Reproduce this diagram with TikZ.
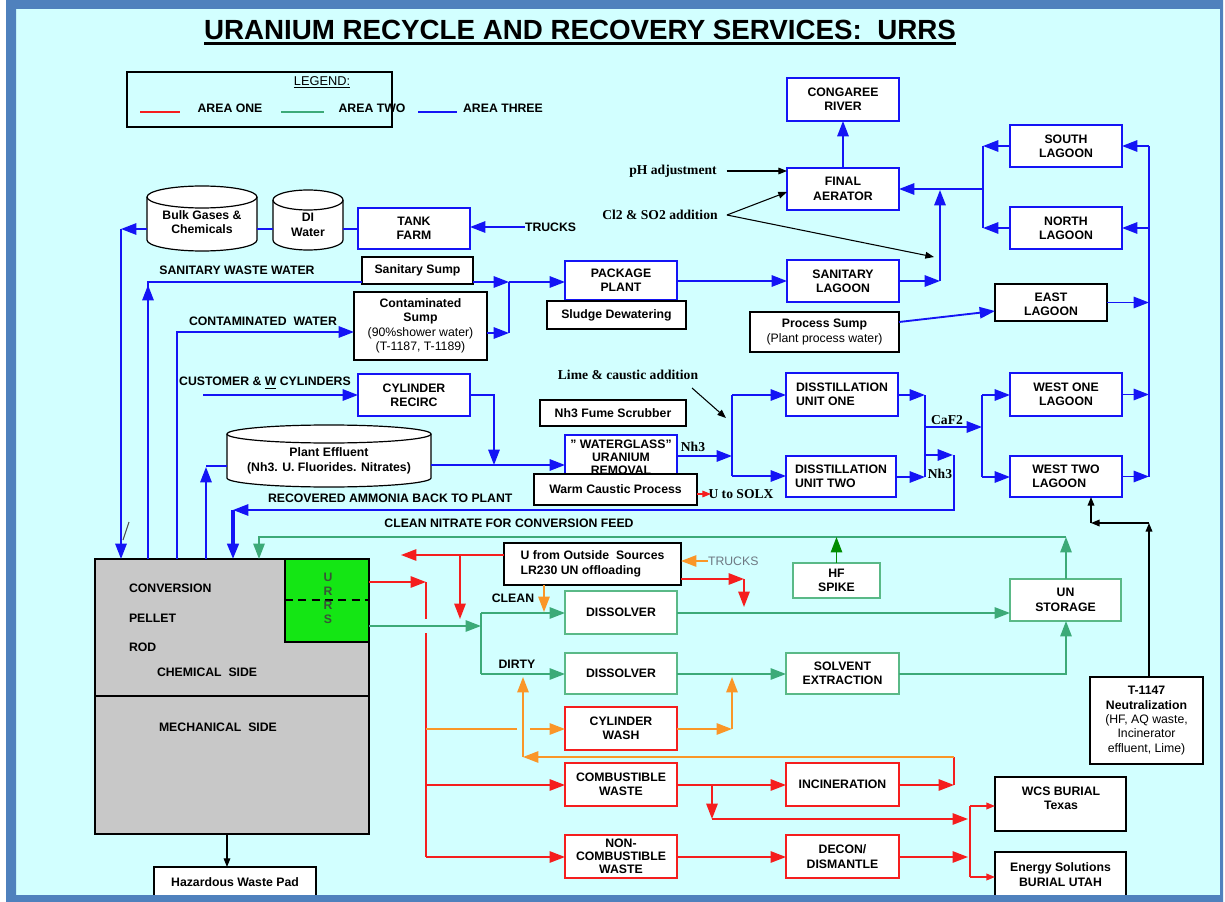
\documentclass[tikz,border=0pt]{standalone}
\usepackage{fontspec}
\setmainfont{Liberation Sans}
\newfontfamily\serifb{Liberation Serif}
\usetikzlibrary{arrows.meta}
\definecolor{bg}{RGB}{210,255,255}
\definecolor{cframe}{RGB}{79,129,189}
\definecolor{cblue}{RGB}{20,20,245}
\definecolor{cgreen}{RGB}{60,170,120}
\definecolor{cgreenbox}{RGB}{90,185,135}
\definecolor{cdkgreen}{RGB}{0,140,0}
\definecolor{cred}{RGB}{245,30,30}
\definecolor{corange}{RGB}{250,150,40}
\definecolor{cgray}{RGB}{200,200,200}
\definecolor{currs}{RGB}{20,230,20}
\definecolor{curtxt}{RGB}{55,85,55}
\definecolor{ctrucks}{RGB}{110,120,130}
\newcommand\myfb{\fontsize{9.2}{10.8}\selectfont\bfseries}
\newcommand\myfbt{\fontsize{9.2}{9.6}\selectfont\bfseries}
\newcommand\myfr{\fontsize{9.2}{10.8}\selectfont\mdseries}
\newcommand\myfs{\serifb\fontsize{10.2}{12}\selectfont\bfseries}
\newcommand\mybox[7]{\node[#1, minimum width={(#5-#3)*0.75pt}, minimum height={(#6-#4)*0.75pt}] (#2) at ({(#3+#5)/2},{(#4+#6)/2}) {#7};}
\newcommand\mycyl[6]{%
  \path[draw=black, line width=0.9pt, fill=white] (#2,{#4+#6}) -- (#2,{#5-#6})
     arc[start angle=180, end angle=360, x radius={(#3-#2)/2*0.75pt}, y radius={#6*0.75pt}]
     -- (#3,{#4+#6})
     arc[start angle=0, end angle=180, x radius={(#3-#2)/2*0.75pt}, y radius={#6*0.75pt}] -- cycle;
  \draw[line width=0.9pt] (#2,{#4+#6}) arc[start angle=180, end angle=360, x radius={(#3-#2)/2*0.75pt}, y radius={#6*0.75pt}];
  \node[minimum width={(#3-#2)*0.75pt}, minimum height={(#5-#4)*0.75pt}, inner sep=0pt, outer sep=0pt] (#1) at ({(#2+#3)/2},{(#4+#5)/2}) {};}
\tikzset{
 box/.style={draw, fill=white, inner sep=0pt, outer sep=0pt, align=center, font=\myfb},
 bbox/.style={box, draw=cblue, line width=1.3pt},
 kbox/.style={box, draw=black, line width=1pt},
 gbox/.style={box, draw=cgreenbox, line width=1.2pt},
 rbox/.style={box, draw=cred, line width=1.2pt},
 lbl/.style={inner sep=0pt, outer sep=0pt, font=\myfb, align=center},
 slbl/.style={inner sep=0pt, outer sep=0pt, font=\myfs},
 bl/.style={draw=cblue, line width=1.4pt},
 gl/.style={draw=cgreen, line width=1.2pt},
 rl/.style={draw=cred, line width=1.2pt},
 ol/.style={draw=corange, line width=1.2pt},
 kl/.style={draw=black, line width=0.8pt},
 arrw/.style={-{Triangle[length=11.5pt,width=8.5pt]}},
 sarrw/.style={-{Triangle[length=6.5pt,width=5pt]}},
}
\begin{document}
\begin{tikzpicture}[x=0.75pt,y=-0.75pt]
\useasboundingbox (0,0) rectangle (1225,902);
\fill[white] (0,0) rectangle (1225,902);
\fill[bg] (16,9) rectangle (1220,895);

% title
\node[inner sep=0pt, outer sep=0pt, anchor=base, font=\fontsize{20.8}{24}\selectfont\bfseries] (ttl) at (580,40) {URANIUM RECYCLE AND RECOVERY SERVICES:\ \ URRS};
\draw[line width=1.6pt] ([yshift=-2.6pt]ttl.base west) -- ([yshift=-2.6pt]ttl.base east);

% legend
\node[draw, line width=0.9pt, inner sep=0pt, minimum width={265*0.75pt}, minimum height={55*0.75pt}] (legend) at (259.5,99.5) {};
\node[inner sep=0pt, font=\fontsize{9.6}{11}\selectfont] (legt) at (322,82) {\underline{LEGEND:}};
\draw[draw=cred, line width=2.2pt] (140,112) -- (180,112);
\draw[draw=cgreen, line width=2.2pt] (281,112) -- (324,112);
\draw[draw=cblue, line width=2.2pt] (418,112) -- (457,112);
\node[lbl] (la1) at (230,108) {AREA ONE};
\node[lbl] (la2) at (372,108) {AREA TWO};
\node[lbl] (la3) at (503,108) {AREA THREE};

% cylinders
\mycyl{bulk}{147}{257}{186}{251}{11}
\mycyl{di}{273}{343}{190}{250}{10}
\mycyl{pe}{227}{431}{425}{487}{9}
\node[lbl] (tbulk) at (202,222) {Bulk Gases \&\\Chemicals};
\node[lbl] (tdi) at (308,225) {DI\\Water};
\node[lbl] (tpe) at (329,461) {Plant Effluent\\(Nh3. U. Fluorides. Nitrates)};

% area three boxes
\mybox{bbox}{tank}{358}{208}{470}{249}{TANK\\FARM}
\mybox{kbox}{sansump}{362}{257}{473}{284}{Sanitary Sump}
\mybox{kbox}{contsump}{354}{292}{487}{360}{Contaminated\\Sump\\{\myfr(90\%shower water)}\\{\myfr(T-1187, T-1189)}}
\mybox{bbox}{pkg}{565}{261}{677}{300}{PACKAGE\\PLANT}
\mybox{kbox}{sludge}{547}{301}{686}{329}{Sludge Dewatering}
\mybox{bbox}{sanlag}{787}{260}{899}{302}{SANITARY\\LAGOON}
\mybox{bbox}{aer}{787}{168}{899}{210}{FINAL\\AERATOR}
\mybox{bbox}{cong}{787}{78}{899}{121}{CONGAREE\\RIVER}
\mybox{bbox}{south}{1010}{125}{1122}{167}{SOUTH\\LAGOON}
\mybox{bbox}{north}{1010}{207}{1122}{249}{NORTH\\LAGOON}
\mybox{kbox}{procsump}{750}{312}{899}{352}{Process Sump\\{\myfr(Plant process water)}}
\mybox{kbox}{east}{995}{284}{1107}{321}{}
\begin{scope}
\clip (997,286) rectangle (1105,316);
\node[lbl] (easttxt) at (1051,304) {EAST\\LAGOON};
\end{scope}
\mybox{bbox}{cylrec}{358}{374}{470}{416}{CYLINDER\\RECIRC}
\mybox{kbox}{fume}{540}{400}{686}{426}{Nh3 Fume Scrubber}
\mybox{bbox, font=\myfbt}{wg}{565}{435}{677}{480}{" WATERGLASS"\\URANIUM\\REMOVAL}
\mybox{kbox}{warm}{534}{474}{697}{505}{Warm Caustic Process}
\mybox{bbox, align=left}{dist1}{786}{373}{898}{416}{DISSTILLATION\\UNIT ONE}
\mybox{bbox, align=left}{dist2}{786}{456}{896}{497}{DISSTILLATION\\UNIT TWO}
\mybox{bbox}{west1}{1010}{373}{1122}{416}{WEST ONE\\LAGOON}
\mybox{bbox, align=left}{west2}{1010}{456}{1122}{497}{WEST TWO\\LAGOON}
\mybox{kbox}{t1147}{1090}{677}{1203}{764}{T-1147\\Neutralization\\{\myfr(HF, AQ waste,}\\{\myfr Incinerator}\\{\myfr effluent, Lime)}}

% conversion block
\mybox{box, fill=cgray, draw=black, line width=1pt}{conv}{95}{559}{369}{834}{}
\draw[kl, line width=1pt] (conv.west |- 0,696) -- (conv.east |- 0,696);
\mybox{box, fill=currs, draw=black, line width=1pt}{urrs}{285}{559}{369}{642}{}
\draw[black, line width=1.2pt, dash pattern=on 6pt off 4pt] (urrs.west |- 0,600) -- (urrs.east |- 0,600);
\node[lbl, text=curtxt] (u1) at (328,577) {U};
\node[lbl, text=curtxt] (u2) at (328,591) {R};
\node[lbl, text=curtxt] (u3) at (328,605) {R};
\node[lbl, text=curtxt] (u4) at (328,619) {S};
\node[lbl, anchor=west] (tconv) at (129,588) {CONVERSION};
\node[lbl, anchor=west] (tpel) at (129,618) {PELLET};
\node[lbl, anchor=west] (trod) at (129,647) {ROD};
\node[lbl, anchor=west] (tchem) at (157,672) {CHEMICAL\ \ SIDE};
\node[lbl, anchor=west] (tmech) at (159,727) {MECHANICAL\ \ SIDE};
\mybox{kbox}{haz}{154}{867}{316}{897}{Hazardous Waste Pad}

% area one / two boxes
\mybox{kbox, align=left}{uout}{504}{543}{681}{585}{U from Outside\ \ Sources\\LR230 UN offloading}
\mybox{gbox}{diss1}{565}{591}{677}{634}{DISSOLVER}
\mybox{gbox}{diss2}{565}{653}{677}{694}{DISSOLVER}
\mybox{rbox}{cylwash}{565}{707}{677}{750}{CYLINDER\\WASH}
\mybox{rbox}{comb}{565}{763}{677}{806}{COMBUSTIBLE\\WASTE}
\mybox{rbox, font=\myfbt}{noncomb}{565}{835}{677}{878}{NON-\\COMBUSTIBLE\\WASTE}
\mybox{gbox}{hf}{793}{563}{880}{598}{HF\\SPIKE}
\mybox{gbox}{unstor}{1010}{579}{1121}{621}{UN\\STORAGE}
\mybox{gbox}{solv}{786}{653}{899}{694}{SOLVENT\\EXTRACTION}
\mybox{rbox}{incin}{786}{763}{899}{806}{INCINERATION}
\mybox{rbox}{decon}{786}{835}{899}{878}{DECON/\\DISMANTLE}
\mybox{kbox}{wcs}{995}{777}{1126}{831}{}
\node[lbl] (wcstxt) at (1061,798) {WCS BURIAL\\Texas};
\mybox{kbox}{energy}{995}{852}{1126}{897}{Energy Solutions\\BURIAL UTAH}

% labels
\node[lbl] (lsww) at (237,270) {SANITARY WASTE WATER};
\node[lbl] (lcw) at (263,321) {CONTAMINATED\ \ WATER};
\node[lbl] (lcust) at (265,383) {CUSTOMER \& \underline{W} CYLINDERS};
\node[lbl, anchor=west] (lrec) at (268,498) {RECOVERED AMMONIA BACK TO PLANT};
\node[lbl] (lclean) at (509,523) {CLEAN NITRATE FOR CONVERSION FEED};
\node[lbl] (lcl) at (513,598) {CLEAN};
\node[lbl] (ldi) at (517,664) {DIRTY};
\node[lbl, anchor=west] (trucks) at (525,227) {TRUCKS};
\node[lbl, anchor=west, font=\myfr, text=ctrucks] (trucks2) at (708,561) {TRUCKS};
\node[slbl] (lph) at (673,171) {pH adjustment};
\node[slbl] (lcl2) at (660,215) {Cl2 \& SO2 addition};
\node[slbl] (llime) at (628,375) {Lime \& caustic addition};
\node[slbl] (lnh3a) at (693,447) {Nh3};
\node[slbl] (lcaf) at (947,420) {CaF2};
\node[slbl] (lnh3b) at (940,474) {Nh3};
\node[slbl] (lsolx) at (741,494) {U to SOLX};

% ---------- blue connectors ----------
\draw[bl, arrw] (trucks.west) -- (tank.east |- trucks.west);
\draw[bl] (tank.west |- 0,229) -- (di.east |- 0,229);
\draw[bl] (di.west |- 0,229) -- (bulk.east |- 0,229);
\coordinate (cb) at (121,229);
\draw[bl, arrw] (bulk.west |- cb) -- (cb);
\draw[bl, arrw] (cb) -- (cb |- conv.north);
\coordinate (csw) at (148,282);
\draw[bl] (csw |- conv.north) -- (csw) -- (sansump.west |- csw);
\draw[bl, arrw] (148,305) -- (148,285);
\coordinate (ccw) at (177,332);
\draw[bl, arrw] (ccw |- conv.north) -- (ccw) -- (contsump.west |- ccw);
\coordinate (jp) at (509,282);
\coordinate (jp2) at (509,333);
\draw[bl, arrw] (sansump.east |- jp) -- (jp);
\draw[bl, arrw] (contsump.east |- jp2) -- (jp2);
\draw[bl] (jp) -- (jp2);
\draw[bl, arrw] (jp) -- (pkg.west |- jp);
\draw[bl, arrw] (pkg.east |- 0,281) -- (sanlag.west |- 0,281);
\coordinate (ja) at (940,281);
\coordinate (jb) at (940,190);
\draw[bl, arrw] (sanlag.east |- ja) -- (ja);
\draw[bl, arrw] (ja) -- (jb);
\coordinate (jl) at (983,189);
\draw[bl, arrw] (jl) -- (aer.east |- jl);
\coordinate (js) at (983,146);
\coordinate (jn) at (983,228);
\draw[bl] (js) -- (jn);
\draw[bl, arrw] (south.west |- js) -- (js);
\draw[bl, arrw] (north.west |- jn) -- (jn);
\draw[bl, arrw] (aer.north) -- (cong.south);
\coordinate (rs) at (1149,146);
\coordinate (rb) at (1149,477);
\draw[bl] (rs) -- (rb);
\draw[bl, arrw] (rs) -- (south.east |- rs);
\draw[bl, arrw] (rs |- jn) -- (north.east |- jn);
\draw[bl, arrw] (east.east) -- (rs |- east.east);
\draw[bl, arrw] (west1.east) -- (rs |- west1.east);
\draw[bl, arrw] (west2.east) -- (rs |- west2.east);
\draw[bl, arrw] (procsump.east |- 0,322) -- (east.west |- 0,311);
\draw[bl, arrw] (203,395) -- (cylrec.west |- 0,395);
\coordinate (jc) at (494,395);
\coordinate (je) at (494,465);
\draw[bl, arrw] (cylrec.east |- jc) -- (jc) -- (je);
\draw[bl, arrw] (pe.east |- je) -- (wg.west |- je);
\coordinate (cpe) at (206,466);
\draw[bl] (cpe) -- (pe.west |- cpe);
\draw[bl, arrw] (cpe |- conv.north) -- (206,467);
\coordinate (jw) at (732,456);
\draw[bl, arrw] (wg.east |- jw) -- (jw);
\coordinate (jw1) at (732,395);
\coordinate (jw2) at (732,476);
\draw[bl] (jw1) -- (jw2);
\draw[bl, arrw] (jw1) -- (dist1.west |- jw1);
\draw[bl, arrw] (jw2) -- (dist2.west |- jw2);
\coordinate (jd1) at (925,395);
\coordinate (jd2) at (925,477);
\draw[bl, arrw] (dist1.east |- jd1) -- (jd1);
\draw[bl, arrw] (dist2.east |- jd2) -- (jd2);
\draw[bl] (jd1) -- (jd2);
\coordinate (jf) at (982,427);
\draw[bl, arrw] (jd1 |- jf) -- (jf);
\coordinate (jf1) at (982,395);
\coordinate (jf2) at (982,477);
\draw[bl] (jf1) -- (jf2);
\draw[bl, arrw] (jf1) -- (west1.west |- jf1);
\draw[bl, arrw] (jf2) -- (west2.west |- jf2);
\coordinate (jn3) at (953,455);
\draw[bl, arrw] (jd1 |- jn3) -- (jn3);
\coordinate (jr1) at (954,510);
\coordinate (jr2) at (233,510);
\draw[bl, arrw] (954,455) -- (jr1) -- (jr2);
\draw[bl, arrw, line width=2.4pt] (jr2) -- (jr2 |- conv.north);

% ---------- black connectors ----------
\draw[kl, sarrw] ([xshift=7.5pt]lph.east) -- (aer.west |- lph.east);
\coordinate (clj) at ([xshift=7pt]lcl2.east);
\draw[kl, sarrw] (clj) -- (aer.west |- 0,192);
\draw[kl, sarrw] (clj) -- (934,257);
\draw[kl, sarrw] (692,388) -- (726,418);
\coordinate (jt1) at (1149,523);
\coordinate (jt2) at (1091,523);
\draw[kl, line width=1.1pt, sarrw] (jt1 |- t1147.north) -- (jt1);
\draw[kl, line width=1.1pt, sarrw] (jt1) -- (jt2);
\draw[kl, line width=1.1pt, sarrw] (jt2) -- (jt2 |- west2.south);
\draw[kl, sarrw] (conv.south -| 227,0) -- (haz.north -| 227,0);
\draw[draw=black!70, line width=0.8pt] (123,540) -- (129,522);

% ---------- green connectors ----------
\coordinate (gu) at (1066,537);
\coordinate (glc) at (259,537);
\draw[gl, arrw] (gu |- unstor.north) -- (gu);
\draw[gl, arrw] (gu) -- (glc) -- (glc |- conv.north);
\draw[draw=cdkgreen, line width=1.2pt, arrw] (hf.north) -- (hf.north |- gu);
\coordinate (jg) at (481,626);
\draw[gl, arrw] (urrs.east |- jg) -- (jg);
\coordinate (jg1) at (481,613);
\coordinate (jg2) at (481,674);
\draw[gl] (jg1) -- (jg2);
\draw[gl, arrw] (jg1) -- (diss1.west |- jg1);
\draw[gl, arrw] (jg2) -- (diss2.west |- jg2);
\draw[gl, arrw] (diss1.east |- jg1) -- (unstor.west |- jg1);
\draw[gl, arrw] (diss2.east |- jg2) -- (solv.west |- jg2);
\coordinate (gs) at (1066,674);
\draw[gl, arrw] (solv.east |- gs) -- (gs) -- (gs |- unstor.south);

% ---------- red connectors ----------
\coordinate (rj) at (426,582);
\draw[rl, arrw] (urrs.east |- rj) -- (rj);
\draw[rl] (rj) -- (426,619);
\coordinate (rc) at (426,785);
\coordinate (rn) at (426,857);
\draw[rl] (426,633) -- (rn);
\draw[rl, arrw] (rc) -- (comb.west |- rc);
\draw[rl, arrw] (rn) -- (noncomb.west |- rn);
\coordinate (ul) at (401,555);
\draw[rl, arrw] (uout.west |- ul) -- (ul);
\draw[rl, arrw] (460,555) -- (460,619);
\coordinate (ur) at (744,579);
\draw[rl, arrw] (uout.east |- ur) -- (ur);
\draw[rl, arrw] (ur) -- (744,607);
\draw[rl, arrw] (comb.east |- rc) -- (incin.west |- rc);
\coordinate (cb1) at (712,785);
\coordinate (cb2) at (712,819);
\draw[rl, arrw] (cb1) -- (cb2);
\coordinate (wj) at (968,819);
\draw[rl, arrw] (cb2) -- (wj);
\draw[rl, arrw] (noncomb.east |- rn) -- (decon.west |- rn);
\draw[rl, arrw] (decon.east |- rn) -- (968,857);
\coordinate (w1) at (970,806);
\coordinate (w2) at (970,877);
\draw[rl] (w1) -- (w2);
\draw[rl, sarrw] (w1) -- (wcs.west |- w1);
\draw[rl, sarrw] (w2) -- (energy.west |- w2);
\draw[rl, line width=0.8pt, sarrw] (warm.east |- 0,494) -- (711,494);
\coordinate (ic) at (954,785);
\coordinate (it) at (954,757);
\coordinate (io) at (523,757);
\draw[rl, arrw] (incin.east |- ic) -- (ic);
\draw[rl] (ic) -- (it);

% ---------- orange connectors ----------
\draw[ol, arrw] (uout.south -| 544,0) -- (544,612);
\draw[ol, arrw] (trucks2.west) -- (uout.east |- trucks2.west);
\draw[ol] (rn |- 0,729) -- (517,729);
\draw[ol, arrw] (530,729) -- (cylwash.west |- 0,729);
\coordinate (oc) at (732,729);
\draw[ol, arrw] (cylwash.east |- oc) -- (oc);
\draw[ol, arrw] (oc) -- (732,677);
\draw[ol, arrw] (it) -- (io);
\draw[ol, arrw] (io) -- (523,677);

% frame
\fill[cframe, even odd rule] (6,0) rectangle (1223,902) (16,9) rectangle (1220,895);
\end{tikzpicture}
\end{document}
